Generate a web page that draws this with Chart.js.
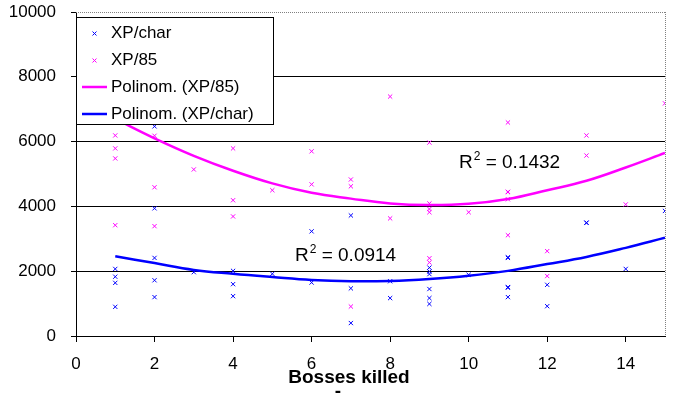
<!DOCTYPE html>
<html>
<head>
<meta charset="utf-8">
<script src="https://cdn.jsdelivr.net/npm/chart.js@4.4.0/dist/chart.umd.min.js"></script>
<style>
html, body { margin: 0; padding: 0; background: #fff; }
</style>
</head>
<body>
<canvas id="grafica" width="682" height="396"></canvas>
<script>
// XP/char (blue crosses): bosses killed -> xp
var charX = [1,1,1,1, 2,2,2,2,2, 3, 4,4,4, 5, 6,6, 7,7,7, 8,8, 9,9,9,9,9,9, 10, 11,11,11,11,11, 12,12, 13,13, 14, 15];
var charY = [2070,1830,1640,900, 6470,3940,2410,1720,1200, 1970, 2010,1600,1230, 1920, 3230,1650, 3720,1470,400, 1690,1170,
             2110,1990,1910,1450,1170,990, 1890, 2430,2410,1510,1490,1200, 1580,920, 3500,3490, 2070, 3860];

// XP/85 (magenta crosses)
var x85X = [1,1,1,1, 2,2,2, 3, 4,4,4, 5, 6,6, 7,7,7, 8,8, 9,9,9,9,9,9, 10, 11,11,11,11,11, 12,12, 13,13, 14, 15];
var x85Y = [6190,5790,5480,3420, 6180,4590,3390, 5140, 5790,4190,3690, 4500, 5700,4680, 4830,4620,910, 7390,3630,
            5970,4090,3920,3820,2400,2270, 3820, 6590,4450,4440,4220,3110, 2620,1850, 6190,5570, 4060, 7180];

// trend lines
var trendX = [1,2,3,4,5,6,7,8,9,10,11,12,13,14,15];
var trend85 = [6700,6100,5560,5100,4710,4420,4240,4090,4040,4080,4230,4500,4790,5200,5650];
var trendChar = [2460,2250,2040,1920,1820,1730,1690,1700,1760,1860,2010,2220,2440,2720,3030];

var xTicks = [0,2,4,6,8,10,12,14];
var yTicks = [0,2000,4000,6000,8000,10000];

var FUENTE = '"Liberation Sans", Arial, sans-serif';

function puntos(xs, ys) {
    var d = [];
    for (let i = 0; i < xs.length; i++) {
        d.push({x: xs[i], y: ys[i]});
    }
    return d;
}

function cruz(ctx, x, y, r, color) {
    ctx.save();
    ctx.strokeStyle = color;
    ctx.lineWidth = 1;
    ctx.beginPath();
    ctx.moveTo(x - r, y - r); ctx.lineTo(x + r, y + r);
    ctx.moveTo(x - r, y + r); ctx.lineTo(x + r, y - r);
    ctx.stroke();
    ctx.restore();
}

function r2(ctx, x, y, valor) {
    ctx.save();
    ctx.fillStyle = '#000';
    ctx.textBaseline = 'alphabetic';
    ctx.textAlign = 'left';
    ctx.font = '19px ' + FUENTE;
    ctx.fillText('R', x, y);
    var w = ctx.measureText('R').width;
    ctx.font = '12px ' + FUENTE;
    ctx.fillText('2', x + w + 1, y - 8);
    var w2 = ctx.measureText('2').width;
    ctx.font = '19px ' + FUENTE;
    ctx.fillText(' = ' + valor, x + w + w2 + 1, y);
    ctx.restore();
}

var leyenda = [
    {text: 'XP/char', color: '#0000ff', tipo: 'punto'},
    {text: 'XP/85', color: '#ff00ff', tipo: 'punto'},
    {text: 'Polinom. (XP/85)', color: '#ff00ff', tipo: 'linea'},
    {text: 'Polinom. (XP/char)', color: '#0000ff', tipo: 'linea'}
];

var extras = {
    id: 'extras',
    beforeDatasetsDraw: function(chart) {
        var a = chart.chartArea;
        var ctx = chart.ctx;
        ctx.save();
        ctx.strokeStyle = '#808080';
        ctx.lineWidth = 1;
        ctx.setLineDash([1, 1]);
        ctx.beginPath();
        ctx.moveTo(a.left, Math.round(a.top) + 0.5);
        ctx.lineTo(a.right, Math.round(a.top) + 0.5);
        ctx.moveTo(Math.round(a.right) + 0.5, a.top);
        ctx.lineTo(Math.round(a.right) + 0.5, a.bottom);
        ctx.stroke();
        ctx.restore();
    },
    afterDatasetsDraw: function(chart) {
        var ctx = chart.ctx;
        // legend box
        ctx.save();
        ctx.fillStyle = '#fff';
        ctx.fillRect(76, 17, 198, 108);
        ctx.strokeStyle = '#000';
        ctx.lineWidth = 1;
        ctx.strokeRect(76.5, 17.5, 197, 107);
        ctx.font = '17px ' + FUENTE;
        ctx.textBaseline = 'middle';
        ctx.textAlign = 'left';
        for (let i = 0; i < leyenda.length; i++) {
            var yy = 33 + i * 27;
            if (leyenda[i].tipo == 'punto') {
                cruz(ctx, 94.5, yy + 0.5, 2, leyenda[i].color);
            } else {
                ctx.strokeStyle = leyenda[i].color;
                ctx.lineWidth = 2.5;
                ctx.beginPath();
                ctx.moveTo(82, yy);
                ctx.lineTo(107, yy);
                ctx.stroke();
            }
            ctx.fillStyle = '#000';
            ctx.fillText(leyenda[i].text, 111, yy);
        }
        ctx.restore();

        r2(ctx, 459, 168, '0.1432');
        r2(ctx, 295, 261, '0.0914');
    },
    afterDraw: function(chart) {
        var ctx = chart.ctx;
        ctx.save();
        ctx.fillStyle = '#000';
        ctx.font = 'bold 19px ' + FUENTE;
        ctx.textAlign = 'center';
        ctx.textBaseline = 'middle';
        ctx.fillText('Bosses killed', 349, 378);
        ctx.fillText('-', 338, 392);
        ctx.restore();
    }
};

var ctx = document.getElementById('grafica').getContext('2d');
var grafica = new Chart(ctx, {
    type: 'scatter',
    data: {
        datasets: [{
            label: 'Polinom. (XP/char)',
            data: puntos(trendX, trendChar),
            showLine: true,
            borderColor: '#0000ff',
            borderWidth: 2.5,
            pointRadius: 0,
            tension: 0.4,
            fill: false
        }, {
            label: 'Polinom. (XP/85)',
            data: puntos(trendX, trend85),
            showLine: true,
            borderColor: '#ff00ff',
            borderWidth: 2.5,
            pointRadius: 0,
            tension: 0.4,
            fill: false
        }, {
            label: 'XP/85',
            data: puntos(x85X, x85Y),
            pointStyle: 'crossRot',
            pointRadius: 3,
            borderWidth: 1,
            borderColor: '#ff00ff',
            backgroundColor: '#ff00ff'
        }, {
            label: 'XP/char',
            data: puntos(charX, charY),
            pointStyle: 'crossRot',
            pointRadius: 3,
            borderWidth: 1,
            borderColor: '#0000ff',
            backgroundColor: '#0000ff'
        }]
    },
    options: {
        responsive: false,
        animation: false,
        devicePixelRatio: 1,
        layout: {padding: {left: 0, top: 12, right: 17, bottom: 0}, autoPadding: false},
        plugins: {
            legend: {display: false},
            tooltip: {enabled: false}
        },
        scales: {
            x: {
                type: 'linear',
                min: 0,
                max: 15,
                afterBuildTicks: function(s) { s.ticks = xTicks.map(function(v) { return {value: v}; }); },
                afterFit: function(s) { s.height = 60; s.paddingLeft = 0; s.paddingRight = 0; },
                ticks: {color: '#000', font: {family: FUENTE, size: 17}, padding: 12, maxRotation: 0,
                        callback: function(v) { return String(v); }},
                grid: {drawOnChartArea: false, color: '#000', tickLength: 6},
                border: {color: '#000', width: 1}
            },
            y: {
                min: 0,
                max: 10000,
                afterBuildTicks: function(s) { s.ticks = yTicks.map(function(v) { return {value: v}; }); },
                afterFit: function(s) { s.width = 76; s.paddingTop = 0; s.paddingBottom = 0; },
                ticks: {color: '#000', font: {family: FUENTE, size: 17}, padding: 15,
                        callback: function(v) { return String(v); }},
                grid: {
                    color: function(c) { return (c.tick && c.tick.value === 10000) ? 'rgba(0,0,0,0)' : '#000'; },
                    tickColor: '#000',
                    tickLength: 5
                },
                border: {color: '#000', width: 1}
            }
        }
    },
    plugins: [extras]
});
</script>
</body>
</html>
